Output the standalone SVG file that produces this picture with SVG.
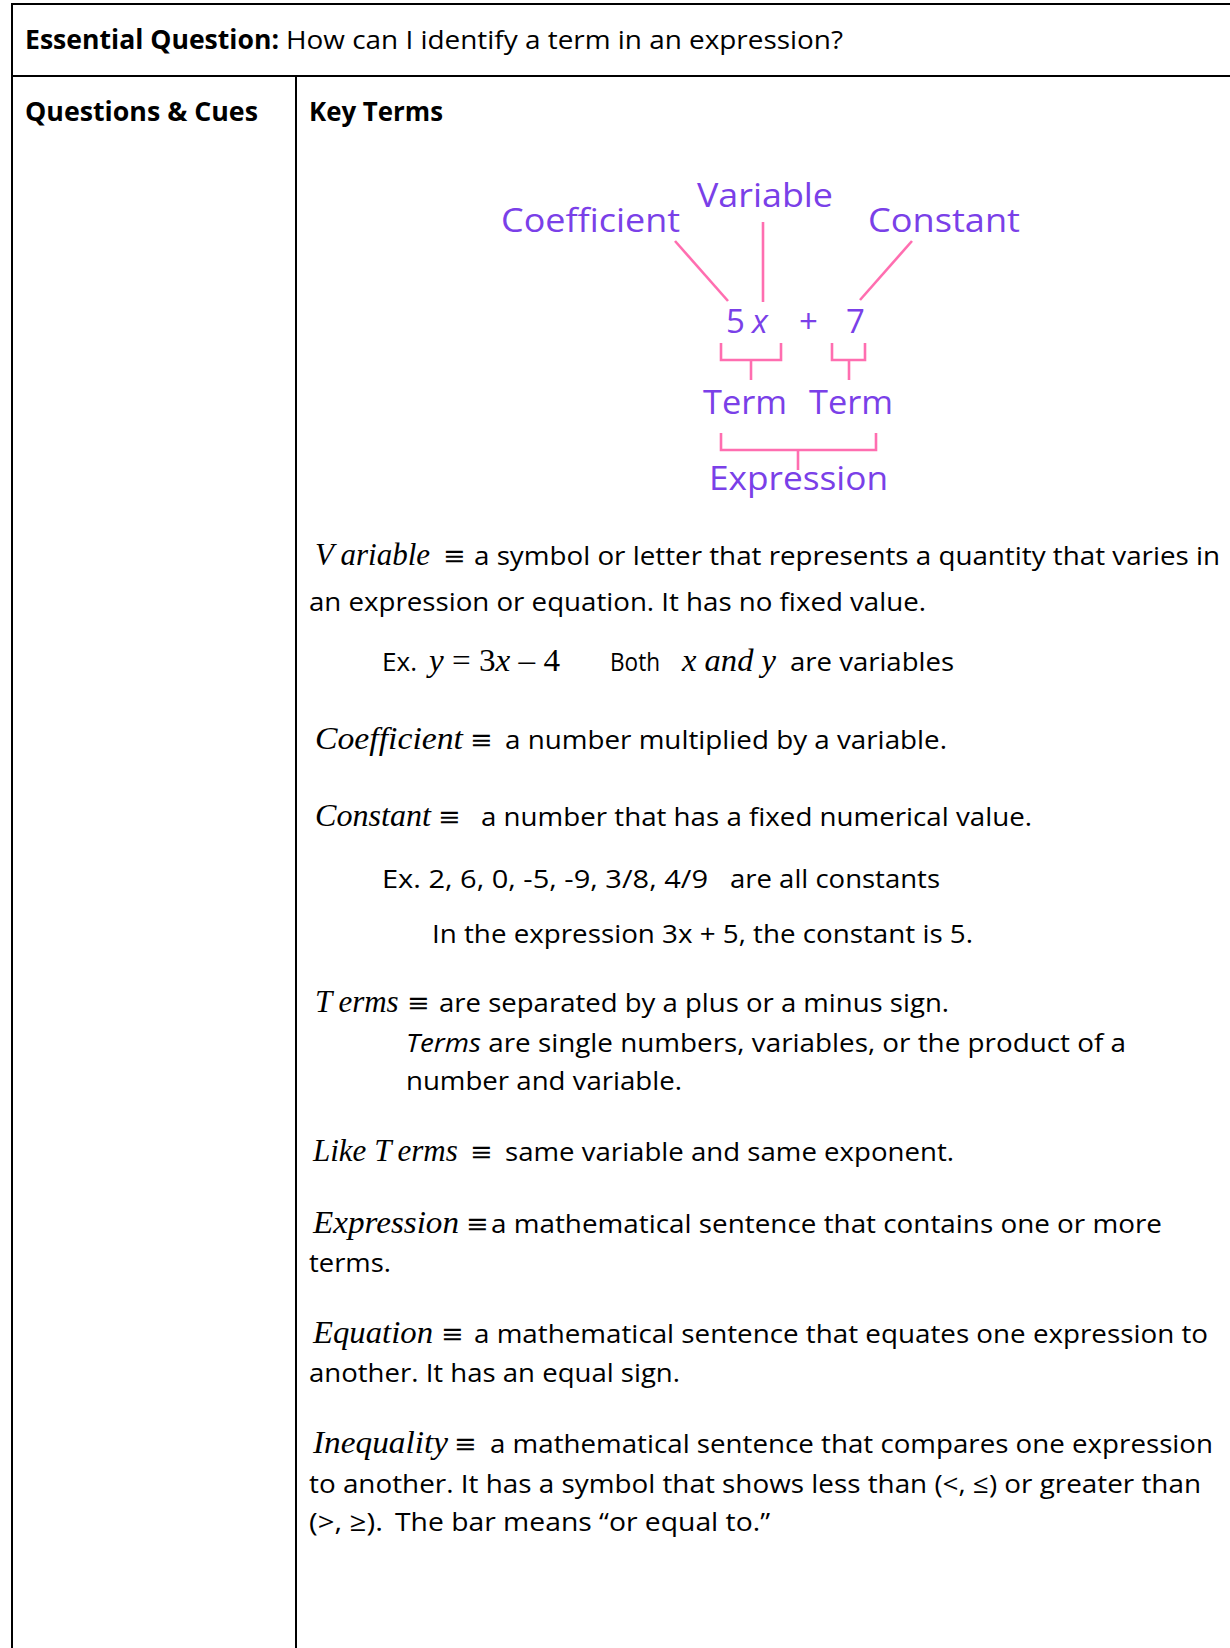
<svg xmlns="http://www.w3.org/2000/svg" width="1230" height="1648" viewBox="0 0 1230 1648">
<style>
.b{font-family:"Open Sans","Noto Sans",sans-serif;font-size:26px;fill:#000}
.bb{font-family:"Open Sans","Noto Sans",sans-serif;font-size:26px;font-weight:bold;fill:#000}
.m{font-family:"Liberation Serif","DejaVu Serif",serif;font-size:31px;font-style:italic;fill:#000}
.mu{font-family:"Liberation Serif","DejaVu Serif",serif;font-size:31px;fill:#000}
.eq{font-family:"DejaVu Serif","Liberation Serif",serif;font-size:27px;fill:#000}
.p{font-family:"Open Sans","Noto Sans",sans-serif;font-size:33px;fill:#7a40e8}
.grid{stroke:#000;stroke-width:2;fill:none}
.pk{stroke:#ff6eb0;stroke-width:2.6;fill:none;stroke-linecap:butt}
</style>
<rect width="1230" height="1648" fill="#fff"/>
<g id="table">
<line class="grid" x1="12" y1="4" x2="1230" y2="4"/>
<line class="grid" x1="12" y1="76" x2="1230" y2="76"/>
<line class="grid" x1="12" y1="3" x2="12" y2="1648"/>
<line class="grid" x1="296" y1="76" x2="296" y2="1648"/>
</g>
<g id="header">
<text class="bb" x="25" y="49" textLength="254" lengthAdjust="spacingAndGlyphs">Essential Question:</text>
<text class="b" x="286" y="49" textLength="557" lengthAdjust="spacingAndGlyphs">How can I identify a term in an expression?</text>
<text class="bb" x="25" y="121" textLength="233" lengthAdjust="spacingAndGlyphs">Questions &amp; Cues</text>
<text class="bb" x="309" y="121" textLength="134" lengthAdjust="spacingAndGlyphs">Key Terms</text>
</g>
<g id="diagram">
<g id="connectors">
<line class="pk" x1="675" y1="241" x2="728" y2="301"/>
<line class="pk" x1="763" y1="222" x2="763" y2="302"/>
<line class="pk" x1="912" y1="241" x2="860" y2="300"/>
<polyline class="pk" points="721,343 721,360 781,360 781,343"/>
<line class="pk" x1="751" y1="360" x2="751" y2="380"/>
<polyline class="pk" points="832,343 832,360 865,360 865,343"/>
<line class="pk" x1="849" y1="360" x2="849" y2="380"/>
<polyline class="pk" points="721,433 721,450 876,450 876,433"/>
<line class="pk" x1="798" y1="450" x2="798" y2="470"/>
</g>
<g id="lbl-coefficient"><text class="p" x="501" y="232" textLength="179" lengthAdjust="spacingAndGlyphs">Coefficient</text></g>
<g id="lbl-variable"><text class="p" x="697" y="207" textLength="136" lengthAdjust="spacingAndGlyphs">Variable</text></g>
<g id="lbl-constant"><text class="p" x="868" y="232" textLength="152" lengthAdjust="spacingAndGlyphs">Constant</text></g>
<g id="expr">
<text class="p" x="726" y="333">5</text>
<text class="p" x="752" y="333" font-style="italic">x</text>
<text class="p" x="799" y="333" font-size="28">+</text>
<text class="p" x="846" y="333">7</text>
</g>
<g id="lbl-term1"><text class="p" x="703" y="414" textLength="84" lengthAdjust="spacingAndGlyphs">Term</text></g>
<g id="lbl-term2"><text class="p" x="809" y="414" textLength="84" lengthAdjust="spacingAndGlyphs">Term</text></g>
<g id="lbl-expression"><text class="p" x="709" y="490" textLength="179" lengthAdjust="spacingAndGlyphs">Expression</text></g>
</g>
<g id="definitions">
<g id="def-variable">
<text class="m" x="315" y="565"><tspan>V</tspan><tspan dx="10">ariable</tspan></text>
<text class="eq" x="443" y="565">≡</text>
<text class="b" x="474" y="565" textLength="746" lengthAdjust="spacingAndGlyphs">a symbol or letter that represents a quantity that varies in</text>
<text class="b" x="309" y="611" textLength="617" lengthAdjust="spacingAndGlyphs">an expression or equation. It has no fixed value.</text>
<text class="b" x="382" y="671" textLength="35" lengthAdjust="spacingAndGlyphs">Ex.</text>
<text class="mu" x="429" y="671" textLength="131" lengthAdjust="spacingAndGlyphs"><tspan font-style="italic">y</tspan> = 3<tspan font-style="italic">x</tspan> – 4</text>
<text class="b" x="610" y="671" textLength="50" lengthAdjust="spacingAndGlyphs">Both</text>
<text class="m" x="682" y="671" textLength="94" lengthAdjust="spacingAndGlyphs">x and y</text>
<text class="b" x="790" y="671" textLength="164" lengthAdjust="spacingAndGlyphs">are variables</text>
</g>
<g id="def-coefficient">
<text class="m" x="315" y="749" textLength="148" lengthAdjust="spacingAndGlyphs">Coefficient</text>
<text class="eq" x="470" y="749">≡</text>
<text class="b" x="505" y="749" textLength="442" lengthAdjust="spacingAndGlyphs">a number multiplied by a variable.</text>
</g>
<g id="def-constant">
<text class="m" x="315" y="826" textLength="116" lengthAdjust="spacingAndGlyphs">Constant</text>
<text class="eq" x="438" y="826">≡</text>
<text class="b" x="481" y="826" textLength="551" lengthAdjust="spacingAndGlyphs">a number that has a fixed numerical value.</text>
<text class="b" x="382" y="888" textLength="326" lengthAdjust="spacingAndGlyphs">Ex. 2, 6, 0, -5, -9, 3/8, 4/9</text>
<text class="b" x="730" y="888" textLength="210" lengthAdjust="spacingAndGlyphs">are all constants</text>
<text class="b" x="432" y="943" textLength="541" lengthAdjust="spacingAndGlyphs">In the expression 3x + 5, the constant is 5.</text>
</g>
<g id="def-terms">
<text class="m" x="315" y="1012"><tspan>T</tspan><tspan dx="9">erms</tspan></text>
<text class="eq" x="407" y="1012">≡</text>
<text class="b" x="439" y="1012" textLength="510" lengthAdjust="spacingAndGlyphs">are separated by a plus or a minus sign.</text>
<text class="b" x="406" y="1052" textLength="720" lengthAdjust="spacingAndGlyphs"><tspan font-style="italic">Terms</tspan> are single numbers, variables, or the product of a</text>
<text class="b" x="406" y="1090" textLength="276" lengthAdjust="spacingAndGlyphs">number and variable.</text>
</g>
<g id="def-liketerms">
<text class="m" x="313" y="1161">Like <tspan>T</tspan><tspan dx="9">erms</tspan></text>
<text class="eq" x="470" y="1161">≡</text>
<text class="b" x="505" y="1161" textLength="449" lengthAdjust="spacingAndGlyphs">same variable and same exponent.</text>
</g>
<g id="def-expression">
<text class="m" x="313" y="1233" textLength="146" lengthAdjust="spacingAndGlyphs">Expression</text>
<text class="eq" x="466" y="1233">≡</text>
<text class="b" x="491" y="1233" textLength="671" lengthAdjust="spacingAndGlyphs">a mathematical sentence that contains one or more</text>
<text class="b" x="309" y="1272" textLength="82" lengthAdjust="spacingAndGlyphs">terms.</text>
</g>
<g id="def-equation">
<text class="m" x="313" y="1343" textLength="120" lengthAdjust="spacingAndGlyphs">Equation</text>
<text class="eq" x="441" y="1343">≡</text>
<text class="b" x="474" y="1343" textLength="734" lengthAdjust="spacingAndGlyphs">a mathematical sentence that equates one expression to</text>
<text class="b" x="309" y="1382" textLength="371" lengthAdjust="spacingAndGlyphs">another. It has an equal sign.</text>
</g>
<g id="def-inequality">
<text class="m" x="313" y="1453" textLength="135" lengthAdjust="spacingAndGlyphs">Inequality</text>
<text class="eq" x="454" y="1453">≡</text>
<text class="b" x="490" y="1453" textLength="723" lengthAdjust="spacingAndGlyphs">a mathematical sentence that compares one expression</text>
<text class="b" x="309" y="1493" textLength="892" lengthAdjust="spacingAndGlyphs">to another. It has a symbol that shows less than (&lt;, ≤) or greater than</text>
<text class="b" x="309" y="1531" textLength="74" lengthAdjust="spacingAndGlyphs">(&gt;, ≥).</text>
<text class="b" x="395" y="1531" textLength="375" lengthAdjust="spacingAndGlyphs">The bar means “or equal to.”</text>
</g>
</g>
</svg>
